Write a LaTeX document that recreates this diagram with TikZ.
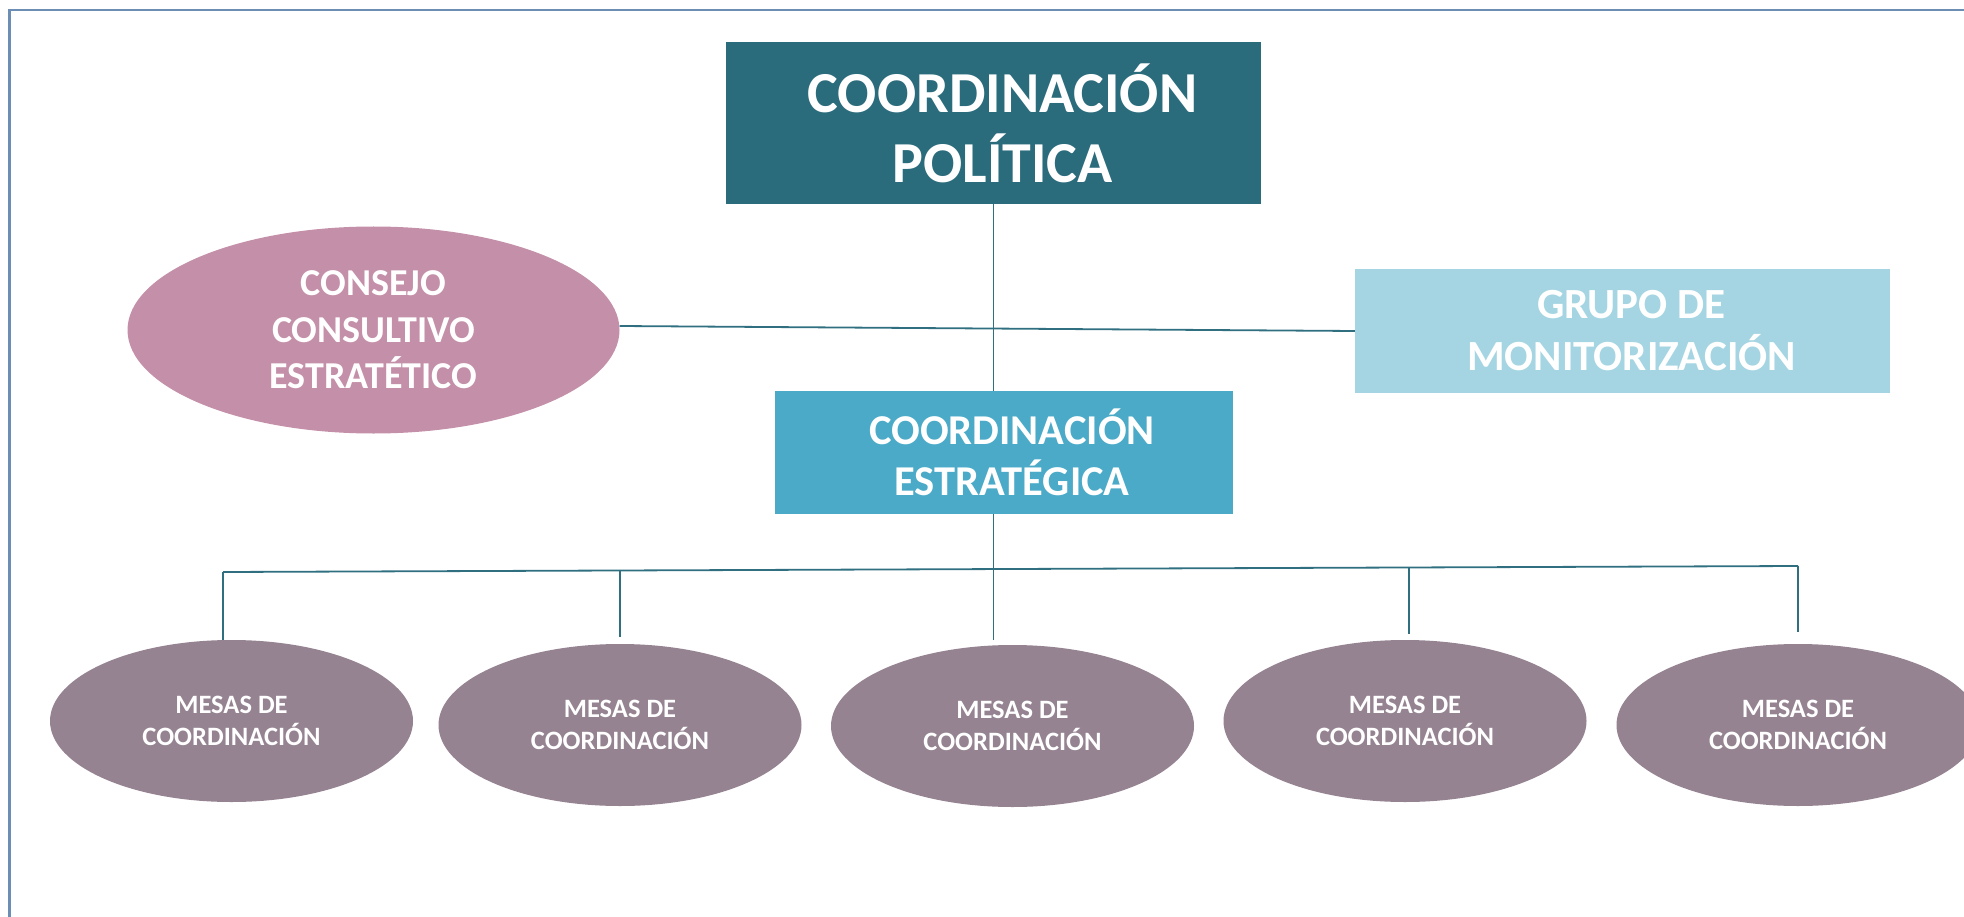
\documentclass[tikz,border=0pt]{standalone}
\usepackage{fontspec}
\setmainfont{Carlito}
\usetikzlibrary{shapes.geometric,calc}
\definecolor{cpcol}{HTML}{2A6B7C}
\definecolor{cecol}{HTML}{4AAAC8}
\definecolor{gmcol}{HTML}{A5D5E2}
\definecolor{cccol}{HTML}{C48FA8}
\definecolor{mscol}{HTML}{958391}
\definecolor{linecol}{HTML}{2F6F80}
\definecolor{bordcol}{HTML}{6C8EB5}
\tikzset{
  boxnode/.style={rectangle, inner sep=0pt, text=white, align=center, font=\bfseries},
  ellnode/.style={ellipse, inner sep=0pt, text=white, align=center, font=\bfseries},
  mesa/.style={ellnode, fill=mscol, minimum width=363pt, minimum height=162pt,
               font=\fontsize{26.5}{32}\selectfont\bfseries},
  conn/.style={draw=linecol, line width=1.8pt},
}
\begin{document}
\begin{tikzpicture}[x=1pt,y=-1pt]
\useasboundingbox (0,0) rectangle (1964,917);
\fill[white] (0,0) rectangle (1964,917);
% frame
\draw[bordcol, line width=2.7pt] (9.7,917) -- (9.7,10) -- (1964,10);

% nodes
\node[boxnode, fill=cpcol, minimum width=535pt, minimum height=162pt,
      font=\fontsize{58}{70}\selectfont\bfseries] (cp) at (993.5,123)
      {\hspace*{18pt}COORDINACIÓN\\\hspace*{18pt}POLÍTICA};
\node[boxnode, fill=cecol, minimum width=458pt, minimum height=123pt,
      font=\fontsize{42.5}{51}\selectfont\bfseries] (ce) at (1004,452.5)
      {\hspace*{16pt}COORDINACIÓN\\\hspace*{16pt}ESTRATÉGICA};
\node[boxnode, fill=gmcol, minimum width=535pt, minimum height=123pt,
      font=\fontsize{43}{52}\selectfont\bfseries] (gm) at (1622.5,331)
      {\hspace*{18pt}GRUPO DE\\\hspace*{18pt}MONITORIZACIÓN};
\node[ellnode, fill=cccol, minimum width=492pt, minimum height=207pt,
      font=\fontsize{38}{46.5}\selectfont\bfseries] (cc) at (373.5,330)
      {CONSEJO\\CONSULTIVO\\ESTRATÉTICO};

\node[mesa] (m1) at (231.5,721) {MESAS DE\\COORDINACIÓN};
\node[mesa] (m2) at (620,725) {MESAS DE\\COORDINACIÓN};
\node[mesa] (m3) at (1012.5,726) {MESAS DE\\COORDINACIÓN};
\node[mesa] (m4) at (1405,721) {MESAS DE\\COORDINACIÓN};
\node[mesa] (m5) at (1798,725) {MESAS DE\\COORDINACIÓN};

% bus coordinates
\coordinate (bl) at (223,572);
\coordinate (br) at (1798,566);
\coordinate (b2) at ($(bl)!0.2521!(br)$);
\coordinate (b4) at ($(bl)!0.7530!(br)$);
\coordinate (ccout) at ($(cc.east)+(0,-4)$);

% connectors
\draw[conn] (cp.south) -- (cp.south |- ce.north);
\draw[conn] (ccout) -- (gm.west);
\draw[conn, shorten >=5pt] (cp.south |- ce.south) -- (cp.south |- m3.north);
\draw[conn] (bl) -- (br);
\draw[conn] (bl) -- (bl |- m1.north);
\draw[conn, shorten >=7pt] (b2) -- (b2 |- m2.north);
\draw[conn, shorten >=6pt] (b4) -- (b4 |- m4.north);
\draw[conn, shorten >=12pt] (br) -- (br |- m5.north);
\end{tikzpicture}
\end{document}
